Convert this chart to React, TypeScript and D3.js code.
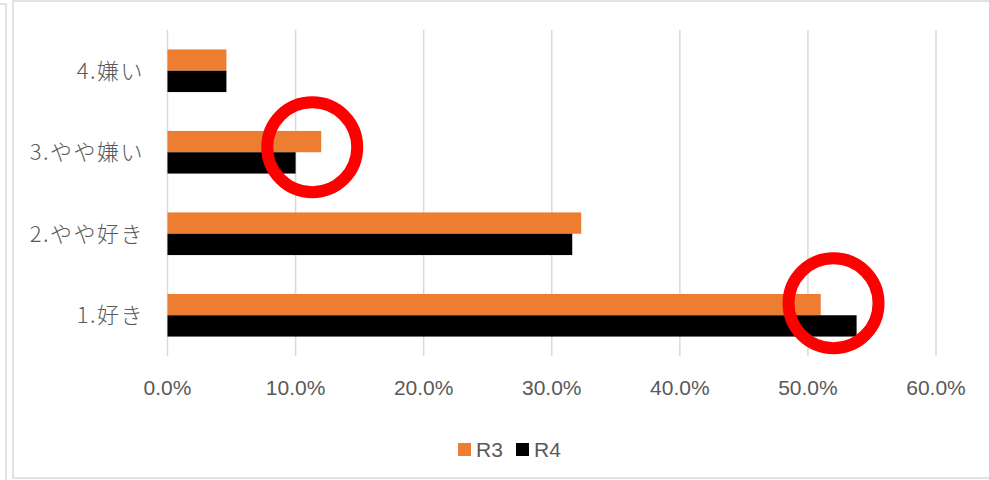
import React from "react";
import * as d3 from "d3";

const categories = ["4.嫌い", "3.やや嫌い", "2.やや好き", "1.好き"];
const seriesNames = ["R3", "R4"];
const r3Values = [0.046, 0.12, 0.323, 0.51];
const r4Values = [0.046, 0.10, 0.316, 0.538];
const tickValues = [0, 0.1, 0.2, 0.3, 0.4, 0.5, 0.6];
const seriesColors = ["#ED7D31", "#000000"];
// annotation circles: category, x value, vertical offset from band centre (px)
const annotations = [
  { category: "3.やや嫌い", x: 0.113, dy: -5 },
  { category: "1.好き", x: 0.52, dy: -12 },
];

const W = 989;
const H = 480;

export default function App() {
  const x = d3.scaleLinear().domain([0, 0.6]).range([167.5, 936]);
  const y = d3
    .scaleBand<string>()
    .domain(categories)
    .range([30, 356])
    .paddingInner(0.477)
    .paddingOuter(0.2385);
  const ys = d3.scaleBand<string>().domain(seriesNames).range([0, y.bandwidth()]);
  const fmt = d3.format(".1%");
  const values = [r3Values, r4Values];
  const font = "'Liberation Sans', Arial, sans-serif";
  const cjk = "'Noto Sans CJK JP', 'Liberation Sans', sans-serif";

  return (
    <svg
      width={W}
      height={H}
      style={{ position: "absolute", left: 0, top: 0, background: "#fff" }}
    >
      {/* frame */}
      <line x1={6} y1={4} x2={6} y2={H} stroke="#d9d9d9" strokeWidth={1.5} />
      <line x1={0} y1={4} x2={6} y2={4} stroke="#d9d9d9" strokeWidth={1.5} />
      <rect x={13} y={1} width={W} height={477} fill="#fff" stroke="#d9d9d9" strokeWidth={1.5} />

      {/* gridlines */}
      {tickValues.map((t) => (
        <line key={t} x1={x(t)} x2={x(t)} y1={30} y2={356} stroke="#d9d9d9" strokeWidth={1.5} />
      ))}

      {/* bars */}
      {categories.map((c, i) =>
        seriesNames.map((s, j) => (
          <rect
            key={c + s}
            x={x(0)}
            y={(y(c) ?? 0) + (ys(s) ?? 0)}
            width={x(values[j][i]) - x(0)}
            height={ys.bandwidth()}
            fill={seriesColors[j]}
          />
        ))
      )}

      {/* tick labels */}
      {tickValues.map((t) => (
        <text
          key={t}
          x={x(t)}
          y={394.5}
          textAnchor="middle"
          fontFamily={font}
          fontSize={21}
          fill="#595959"
        >
          {fmt(t)}
        </text>
      ))}

      {/* category labels */}
      {categories.map((c) => (
        <text
          key={c}
          x={144}
          y={(y(c) ?? 0) + y.bandwidth() / 2}
          dy="0.36em"
          textAnchor="end"
          fontFamily={cjk}
          fontWeight={300}
          fontSize={22}
          letterSpacing={1.5}
          fill="#595959"
        >
          {c}
        </text>
      ))}

      {/* legend */}
      {seriesNames.map((s, j) => {
        const lx = 458 + j * 58;
        return (
          <g key={s}>
            <rect x={lx} y={443} width={13} height={13} fill={seriesColors[j]} />
            <text x={lx + 18} y={456.5} fontFamily={font} fontSize={21} fill="#595959">
              {s}
            </text>
          </g>
        );
      })}

      {/* annotation circles */}
      {annotations.map((a, k) => (
        <circle
          key={k}
          cx={x(a.x)}
          cy={(y(a.category) ?? 0) + y.bandwidth() / 2 + a.dy}
          r={45}
          fill="none"
          stroke="#FF0000"
          strokeWidth={12}
        />
      ))}
    </svg>
  );
}
